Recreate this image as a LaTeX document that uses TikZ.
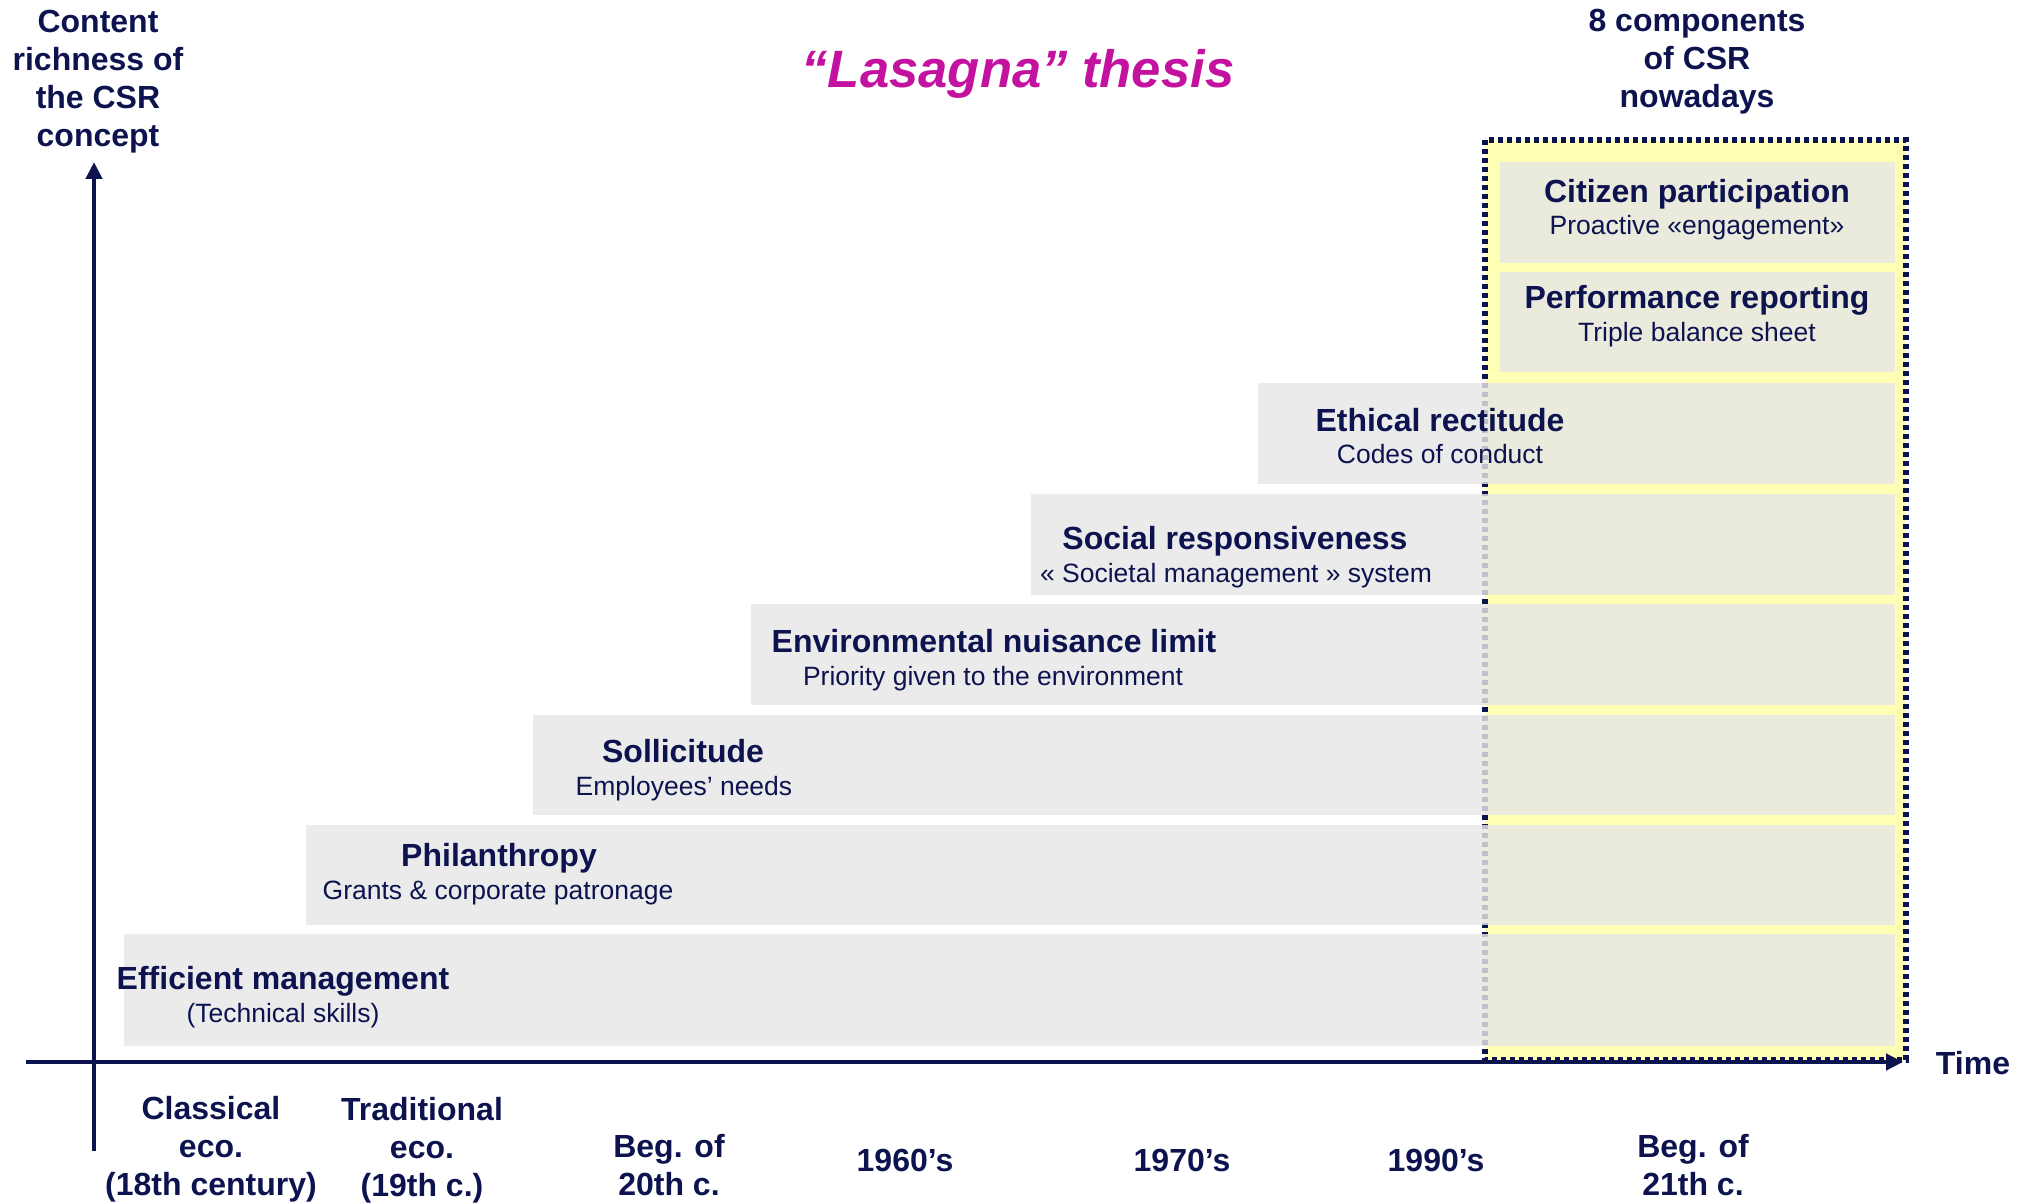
\documentclass[tikz,border=0pt]{standalone}
\usepackage{fontspec}
\setmainfont{Liberation Sans}
\usetikzlibrary{arrows.meta}
\definecolor{navy}{RGB}{13,19,79}
\definecolor{titlemagenta}{RGB}{196,18,160}
\definecolor{paleyellow}{RGB}{255,255,179}
\definecolor{bandgray}{RGB}{231,231,231}

\begin{document}
\begin{tikzpicture}[x=0.5pt,y=-0.5pt,
  band/.style={fill=bandgray, fill opacity=0.82, draw=none},
  head/.style={font=\fontsize{16}{19}\selectfont\bfseries, text=navy, inner sep=0pt, anchor=base},
  sub/.style={font=\fontsize{13.25}{16}\selectfont, text=navy, inner sep=0pt, anchor=base},
  axislabel/.style={font=\fontsize{16}{19}\selectfont\bfseries, text=navy, align=center, inner sep=0pt},
  axisline/.style={draw=navy, line width=2.4pt, -{Triangle[width=8pt,length=8.5pt]}},
]
\useasboundingbox (0,0) rectangle (2028,1203);

% highlighted panel of the current components
\fill[paleyellow] (1485,140) rectangle (1906,1060);
\draw[navy, line width=2.7pt, dash pattern=on 2.7pt off 1.8pt] (1485,140) rectangle (1906,1060);

% stacked layers
\fill[band] (1500,162) rectangle (1895,263);
\fill[band] (1500,272) rectangle (1895,372);
\fill[band] (1258,383) rectangle (1895,484);
\fill[band] (1031,494) rectangle (1895,595);
\fill[band] (751,604) rectangle (1895,705);
\fill[band] (533,715) rectangle (1895,815);
\fill[band] (306,825) rectangle (1895,925);
\fill[band] (124,934) rectangle (1895,1046);

% layer labels
\node[head] (citizen) at (1697,203) {Citizen participation};
\node[sub] (citizensub) at (1697,235) {Proactive «engagement»};
\node[head] (perf) at (1697,309) {Performance reporting};
\node[sub] (perfsub) at (1697,342) {Triple balance sheet};
\node[head] (ethic) at (1440,431) {Ethical rectitude};
\node[sub] (ethicsub) at (1440,463) {Codes of conduct};
\node[head] (social) at (1235,549) {Social responsiveness};
\node[sub] (socialsub) at (1236,582) {« Societal management » system};
\node[head] (env) at (994,652) {Environmental nuisance limit};
\node[sub] (envsub) at (993,685) {Priority given to the environment};
\node[head] (soll) at (683,762) {Sollicitude};
\node[sub] (sollsub) at (684,795) {Employees’ needs};
\node[head] (phil) at (499,866) {Philanthropy};
\node[sub] (philsub) at (498,899) {Grants \& corporate patronage};
\node[head] (eff) at (283,989) {Efficient management};
\node[sub] (effsub) at (283,1022) {(Technical skills)};

% title and axis captions
\node[font=\fontsize{26.3}{31}\selectfont\bfseries\itshape, text=titlemagenta, anchor=base, inner sep=0pt] (title) at (1018,88) {“Lasagna” thesis};
\node[axislabel] (ylabel) at (98,82) {Content\\richness of\\the CSR\\concept};
\node[axislabel] (complabel) at (1697,62) {8 components\\of CSR\\nowadays};

% axes
\coordinate (ybot) at (94,1151);
\coordinate (ytop) at (94,162);
\coordinate (xleft) at (26,1062);
\coordinate (xright) at (1903,1062);
\draw[axisline] (ybot) -- (ytop);
\draw[axisline] (xleft) -- (xright);
\node[axislabel] (time) at (1973,1063) {Time};

% periods along the time axis
\node[axislabel] (p1) at (211,1149) {Classical\\eco.\\(18th century)};
\node[axislabel] (p2) at (422,1150) {Traditional\\eco.\\(19th c.)};
\node[axislabel] (p3) at (669,1165) {Beg. of\\20th c.};
\node[axislabel] (p4) at (905,1160) {1960’s};
\node[axislabel] (p5) at (1182,1160) {1970’s};
\node[axislabel] (p6) at (1436,1160) {1990’s};
\node[axislabel] (p7) at (1693,1165) {Beg. of\\21th c.};
\end{tikzpicture}
\end{document}
